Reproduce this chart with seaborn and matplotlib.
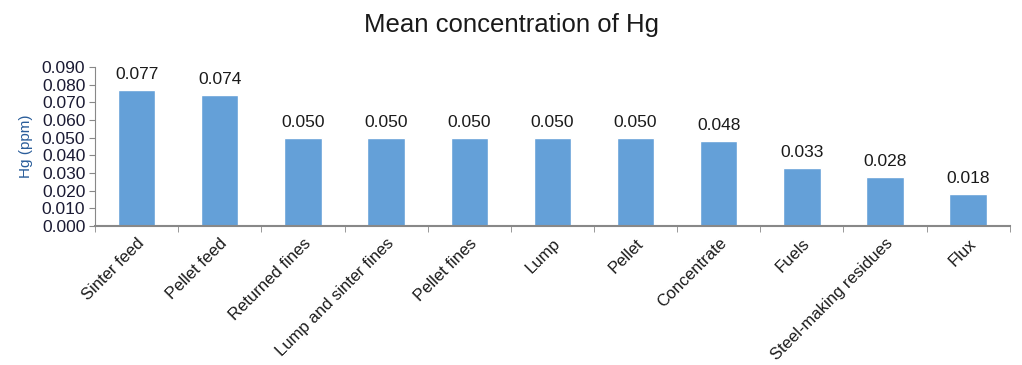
import matplotlib
matplotlib.use("Agg")
import matplotlib.pyplot as plt
import seaborn as sns
import numpy as np
from matplotlib.ticker import FixedLocator, FormatStrFormatter

categories = ["Sinter feed", "Pellet feed", "Returned fines", "Lump and sinter fines",
              "Pellet fines", "Lump", "Pellet", "Concentrate", "Fuels",
              "Steel-making residues", "Flux"]
hg_ppm = [0.077, 0.074, 0.050, 0.050, 0.050, 0.050, 0.050, 0.048, 0.033, 0.028, 0.018]

sns.set_style("white")
plt.rcParams['font.family'] = ['Liberation Sans', 'DejaVu Sans']

fig = plt.figure(figsize=(10.22, 3.65), dpi=100)
ax = fig.add_axes([0.093, 0.381, 0.895, 0.435])

sns.barplot(x=categories, y=hg_ppm, color="#64a0d8", width=0.45, saturation=1, ax=ax)

# value labels above bars
for i, v in enumerate(hg_ppm):
    ax.text(i, v + 0.0045, f"{v:.3f}", ha="center", va="bottom", fontsize=12.5, color="#1a1a1a")

ax.set_ylim(0, 0.090)
ax.set_xlim(-0.5, len(categories) - 0.5)
ax.set_yticks(np.arange(0, 0.091, 0.010))
ax.yaxis.set_major_formatter(FormatStrFormatter("%.3f"))
ax.set_ylabel("Hg (ppm)", fontsize=11, color="#2a5d9a", labelpad=6)
ax.tick_params(axis="y", labelsize=12.5, labelcolor="#1a1a33", length=4, color="#888888",
               direction="out", left=True, pad=3)

# x ticks: labels at centres, tick marks between categories
ax.set_xticks(range(len(categories)))
ax.set_xticklabels(categories, rotation=45, ha="right", rotation_mode="anchor", fontsize=12, color="#1a1a1a")
ax.tick_params(axis="x", length=0, pad=7)
ax.xaxis.set_minor_locator(FixedLocator(np.arange(-0.5, len(categories), 1.0)))
ax.tick_params(axis="x", which="minor", length=4, color="#888888", bottom=True, direction="out")

for s in ["top", "right"]:
    ax.spines[s].set_visible(False)
ax.spines["left"].set_color("#888888")
ax.spines["bottom"].set_color("#888888")
ax.spines["bottom"].set_linewidth(1.5)

fig.suptitle("Mean concentration of Hg", fontsize=18.5, y=0.965, color="#1a1a1a")

fig.savefig("out.png", dpi=100)
